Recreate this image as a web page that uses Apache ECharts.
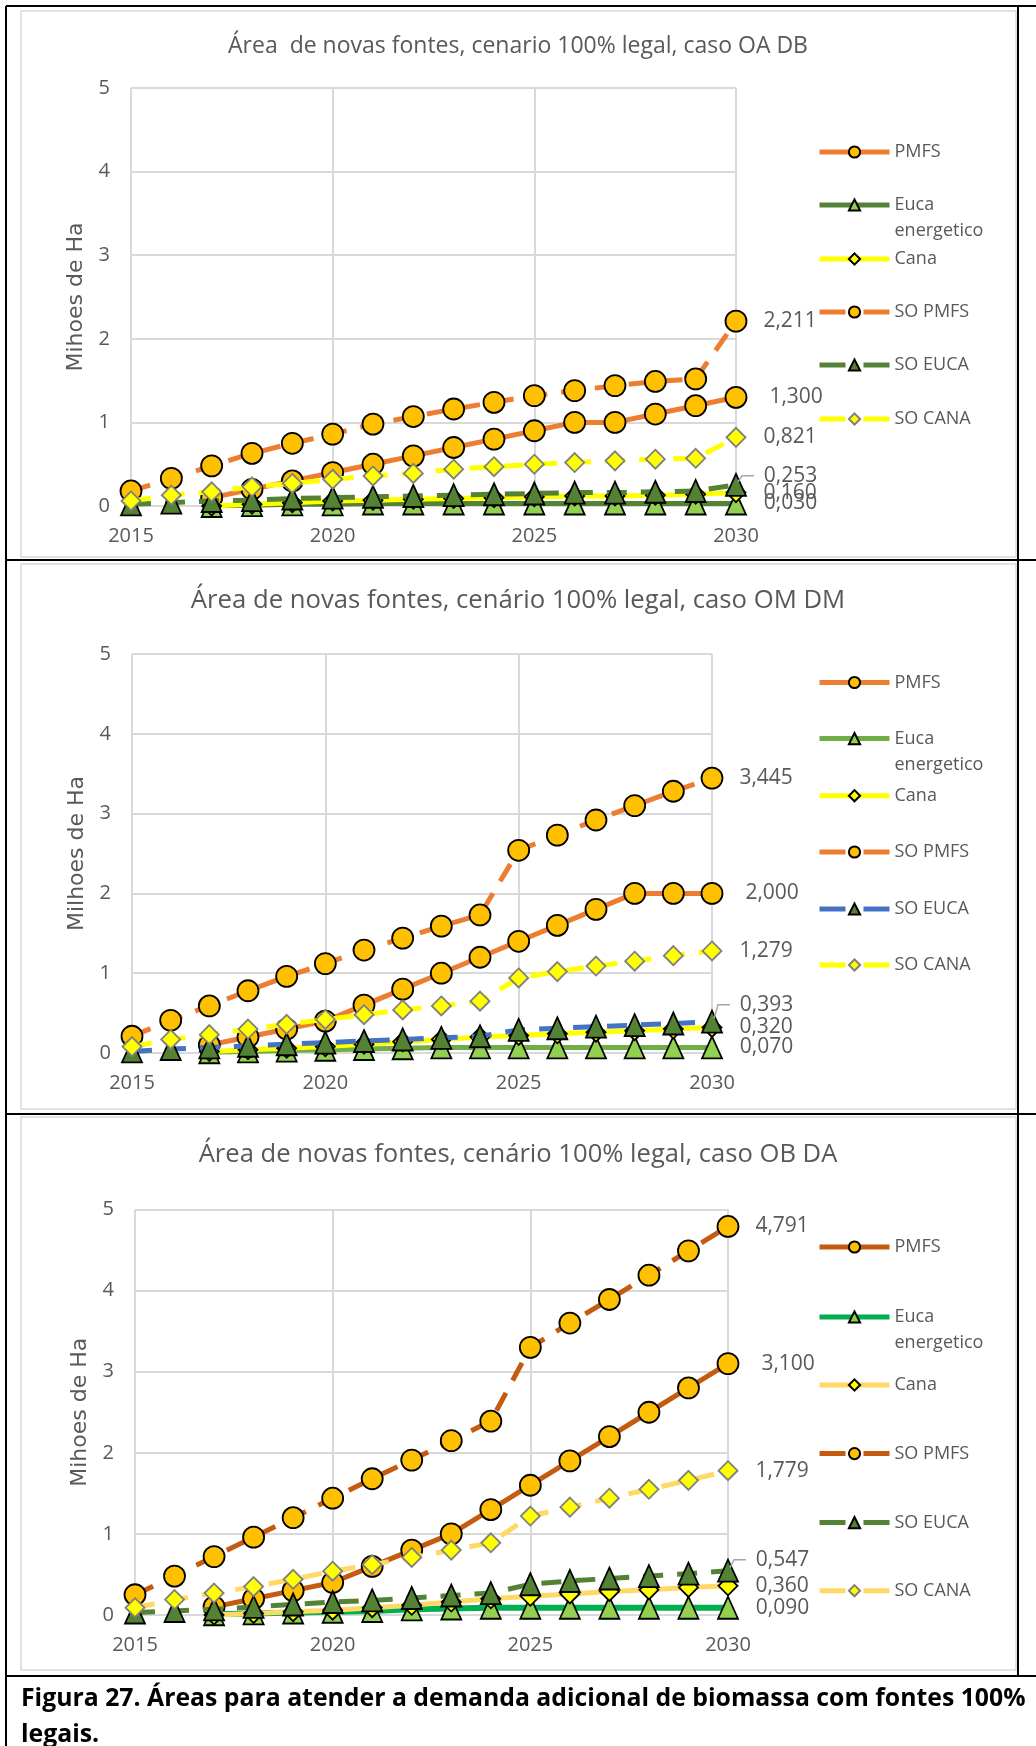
<!DOCTYPE html>
<html>
<head>
<meta charset="utf-8">
<script src="https://cdn.jsdelivr.net/npm/echarts@6/dist/echarts.min.js"></script>
<style>
  html, body { margin: 0; padding: 0; background: #ffffff; }
  #fig { width: 1036px; height: 1746px; }
</style>
</head>
<body>
<div id="fig"></div>
<script>
// ---- data (milhões de ha) ----
const years = [2015, 2016, 2017, 2018, 2019, 2020, 2021, 2022, 2023, 2024, 2025, 2026, 2027, 2028, 2029, 2030];
const xTicks = [2015, 2020, 2025, 2030];
const yTicks = [0, 1, 2, 3, 4, 5];

// caso OA DB
const pmfsOA   = [null, null, 0.10, 0.20, 0.30, 0.40, 0.50, 0.60, 0.70, 0.80, 0.90, 1.00, 1.00, 1.10, 1.20, 1.300];
const eucaOA   = [null, null, 0.00, 0.01, 0.02, 0.02, 0.03, 0.03, 0.03, 0.03, 0.03, 0.03, 0.03, 0.03, 0.03, 0.030];
const canaOA   = [null, null, 0.00, 0.02, 0.04, 0.06, 0.07, 0.08, 0.09, 0.10, 0.11, 0.12, 0.12, 0.13, 0.14, 0.160];
const soPmfsOA = [0.18, 0.33, 0.48, 0.63, 0.75, 0.86, 0.98, 1.07, 1.16, 1.24, 1.32, 1.38, 1.44, 1.49, 1.52, 2.211];
const soEucaOA = [0.02, 0.04, 0.06, 0.07, 0.09, 0.10, 0.11, 0.12, 0.13, 0.14, 0.15, 0.16, 0.16, 0.17, 0.18, 0.253];
const soCanaOA = [0.06, 0.13, 0.17, 0.23, 0.27, 0.32, 0.36, 0.39, 0.44, 0.47, 0.50, 0.52, 0.54, 0.56, 0.57, 0.821];

// caso OM DM
const pmfsOM   = [null, null, 0.10, 0.20, 0.30, 0.40, 0.60, 0.80, 1.00, 1.20, 1.40, 1.60, 1.80, 2.00, 2.00, 2.000];
const eucaOM   = [null, null, 0.01, 0.02, 0.03, 0.04, 0.05, 0.06, 0.07, 0.07, 0.07, 0.07, 0.07, 0.07, 0.07, 0.070];
const canaOM   = [null, null, 0.02, 0.04, 0.06, 0.08, 0.11, 0.14, 0.17, 0.20, 0.22, 0.24, 0.26, 0.28, 0.30, 0.320];
const soPmfsOM = [0.21, 0.41, 0.59, 0.78, 0.96, 1.12, 1.29, 1.44, 1.59, 1.73, 2.54, 2.73, 2.92, 3.10, 3.28, 3.445];
const soEucaOM = [0.02, 0.05, 0.07, 0.09, 0.11, 0.13, 0.15, 0.17, 0.19, 0.21, 0.29, 0.31, 0.33, 0.35, 0.37, 0.393];
const soCanaOM = [0.08, 0.17, 0.23, 0.30, 0.36, 0.42, 0.48, 0.54, 0.59, 0.65, 0.94, 1.02, 1.09, 1.15, 1.22, 1.279];

// caso OB DA
const pmfsOB   = [null, null, 0.10, 0.20, 0.30, 0.40, 0.60, 0.80, 1.00, 1.30, 1.60, 1.90, 2.20, 2.50, 2.80, 3.100];
const eucaOB   = [null, null, 0.01, 0.02, 0.03, 0.04, 0.05, 0.07, 0.08, 0.09, 0.09, 0.09, 0.09, 0.09, 0.09, 0.090];
const canaOB   = [null, null, 0.00, 0.02, 0.04, 0.06, 0.09, 0.12, 0.16, 0.20, 0.23, 0.26, 0.29, 0.31, 0.34, 0.360];
const soPmfsOB = [0.25, 0.48, 0.72, 0.96, 1.20, 1.44, 1.68, 1.91, 2.15, 2.39, 3.30, 3.60, 3.89, 4.19, 4.49, 4.791];
const soEucaOB = [0.03, 0.05, 0.07, 0.10, 0.13, 0.16, 0.18, 0.21, 0.24, 0.27, 0.38, 0.42, 0.45, 0.48, 0.51, 0.547];
const soCanaOB = [0.09, 0.19, 0.27, 0.35, 0.44, 0.54, 0.62, 0.71, 0.80, 0.89, 1.22, 1.33, 1.44, 1.55, 1.66, 1.779];

const seriesNames = ['PMFS', 'Euca energetico', 'Cana', 'SO PMFS', 'SO EUCA', 'SO CANA'];
const titles = [
  'Área  de novas fontes, cenario 100% legal, caso OA DB',
  'Área de novas fontes, cenário 100% legal, caso OM DM',
  'Área de novas fontes, cenário 100% legal, caso OB DA'
];
const yNames = ['Mihoes de Ha', 'Milhoes de Ha', 'Mihoes de Ha'];
const caption1 = 'Figura 27. Áreas para atender a demanda adicional de biomassa com fontes 100%';
const caption2 = 'legais.';

// ---- styling ----
const GREY_TEXT = '#595959';
const GRID_LINE = '#D9D9D9';
const FONT = '"Open Sans", "Noto Sans", sans-serif';

const panels = [
  {
    tag: 'OA DB',
    values: [pmfsOA, eucaOA, canaOA, soPmfsOA, soEucaOA, soCanaOA],
    lineColors: ['#ED7D31', '#548235', '#FFFF00', '#ED7D31', '#548235', '#FFFF00'],
    grid: { left: 131, top: 88, width: 605, height: 418 },
    titleTop: 34.5, titleSize: 23,
    legendCenters: [152, 205, 259, 312, 365, 419],
    leaderDy: -9
  },
  {
    tag: 'OM DM',
    values: [pmfsOM, eucaOM, canaOM, soPmfsOM, soEucaOM, soCanaOM],
    lineColors: ['#ED7D31', '#70AD47', '#FFFF00', '#ED7D31', '#4472C4', '#FFFF00'],
    grid: { left: 132, top: 654, width: 580, height: 399 },
    titleTop: 588, titleSize: 25.7,
    legendCenters: [682.5, 738.6, 795.7, 852, 909, 965],
    leaderDy: -17
  },
  {
    tag: 'OB DA',
    values: [pmfsOB, eucaOB, canaOB, soPmfsOB, soEucaOB, soCanaOB],
    lineColors: ['#C55A11', '#00B050', '#FFD966', '#C55A11', '#548235', '#FFD966'],
    grid: { left: 135, top: 1209.5, width: 593, height: 405.5 },
    titleTop: 1142, titleSize: 25.6,
    legendCenters: [1247, 1317, 1385, 1453.6, 1522.6, 1590.7],
    leaderDy: -11
  }
];

// marker look for each of the six series (same order as seriesNames)
const markers = [
  { symbol: 'circle',   size: 21,       fill: '#FFC000', border: '#000000', dashed: false, dist: 22 },
  { symbol: 'triangle', size: [20, 22], fill: '#92D050', border: '#000000', dashed: false, dist: 17 },
  { symbol: 'diamond',  size: 19,       fill: '#FFFF00', border: '#000000', dashed: false, dist: 17 },
  { symbol: 'circle',   size: 21,       fill: '#FFC000', border: '#000000', dashed: true,  dist: 16 },
  { symbol: 'triangle', size: [20, 22], fill: '#548235', border: '#000000', dashed: true,  dist: 17 },
  { symbol: 'diamond',  size: 19,       fill: '#FFFF00', border: '#7F7F7F', dashed: true,  dist: 17 }
];

const fmt = v => v.toFixed(3).replace('.', ',');
const fullName = (name, tag) => name + ' · ' + tag;

const grids = [], xAxes = [], yAxes = [], series = [], legends = [], titleList = [];

panels.forEach((p, gi) => {
  grids.push(Object.assign({ outerBoundsMode: 'none', containLabel: false }, p.grid));
  xAxes.push({
    type: 'value', gridIndex: gi,
    min: xTicks[0], max: xTicks[xTicks.length - 1], interval: xTicks[1] - xTicks[0],
    axisLine: { show: false }, axisTick: { show: false },
    splitLine: { show: true, lineStyle: { color: GRID_LINE, width: 2 } },
    axisLabel: { color: GREY_TEXT, fontSize: 20, fontFamily: FONT, margin: 20, formatter: v => String(v) }
  });
  yAxes.push({
    type: 'value', gridIndex: gi,
    min: yTicks[0], max: yTicks[yTicks.length - 1], interval: yTicks[1] - yTicks[0],
    axisLine: { show: false }, axisTick: { show: false },
    splitLine: { show: true, lineStyle: { color: GRID_LINE, width: 2 } },
    axisLabel: { color: GREY_TEXT, fontSize: 20, fontFamily: FONT, margin: 21 },
    name: yNames[gi], nameLocation: 'middle', nameRotate: 90, nameGap: 44,
    nameTextStyle: { color: GREY_TEXT, fontSize: 22, fontFamily: '"DejaVu Sans", sans-serif' }
  });
  titleList.push({
    text: titles[gi], left: 'center', top: p.titleTop, padding: 0,
    textStyle: { color: GREY_TEXT, fontSize: p.titleSize, fontWeight: 'normal', fontFamily: FONT }
  });

  seriesNames.forEach((name, si) => {
    const m = markers[si];
    const vals = p.values[si];
    const data = [];
    years.forEach((yr, k) => {
      if (vals[k] === null) return;
      if (k === years.length - 1) {
        data.push({ value: [yr, vals[k]], label: { show: true } });
      } else {
        data.push([yr, vals[k]]);
      }
    });
    const sname = fullName(name, p.tag);
    series.push({
      type: 'line', name: sname, xAxisIndex: gi, yAxisIndex: gi,
      z: 2 + si,
      data: data,
      symbol: m.symbol, symbolSize: m.size,
      showAllSymbol: true,
      lineStyle: {
        color: p.lineColors[si], width: si === 1 && gi === 2 ? 6 : 5,
        type: m.dashed ? [20, 14] : 'solid', join: 'round'
      },
      itemStyle: { color: m.fill, borderColor: m.border, borderWidth: 1.8 },
      label: {
        show: false, position: 'right', distance: m.dist,
        offset: si === 4 ? [0, p.leaderDy] : [0, 0],
        color: GREY_TEXT, fontSize: 21, fontFamily: FONT,
        formatter: prm => fmt(prm.value[1])
      },
      emphasis: { disabled: true },
      animation: false
    });
    // the two-line "Euca / energetico" entry keeps its marker level with the first line
    legends.push({
      left: 817,
      top: p.legendCenters[si] - (si === 1 ? 39 : 13),
      orient: 'vertical', padding: 0,
      itemWidth: 70, itemHeight: 14,
      selectedMode: false,
      data: [sname],
      formatter: n => {
        const base = n.split(' · ')[0];
        return base === 'Euca energetico' ? ' \nEuca\nenergetico' : base;
      },
      lineStyle: { width: 5, type: m.dashed ? [26, 18] : 'solid' },
      textStyle: { color: GREY_TEXT, fontSize: 18, fontFamily: FONT, lineHeight: 26 }
    });
  });
});

// table rules and chart-area frames
const BLACK = '#000000';
const frameGraphics = [
  { type: 'rect', shape: { x: 21, y: 11, width: 995, height: 546 }, style: { fill: null, stroke: GRID_LINE, lineWidth: 1.5 }, silent: true, z: 0 },
  { type: 'rect', shape: { x: 21, y: 564, width: 995, height: 545 }, style: { fill: null, stroke: GRID_LINE, lineWidth: 1.5 }, silent: true, z: 0 },
  { type: 'rect', shape: { x: 21, y: 1117, width: 995, height: 553 }, style: { fill: null, stroke: GRID_LINE, lineWidth: 1.5 }, silent: true, z: 0 },
  { type: 'line', shape: { x1: 6, y1: 6, x2: 1036, y2: 6 }, style: { stroke: BLACK, lineWidth: 2 }, silent: true },
  { type: 'line', shape: { x1: 6, y1: 560, x2: 1036, y2: 560 }, style: { stroke: BLACK, lineWidth: 2 }, silent: true },
  { type: 'line', shape: { x1: 6, y1: 1114, x2: 1036, y2: 1114 }, style: { stroke: BLACK, lineWidth: 2 }, silent: true },
  { type: 'line', shape: { x1: 6, y1: 1676, x2: 1036, y2: 1676 }, style: { stroke: BLACK, lineWidth: 2 }, silent: true },
  { type: 'line', shape: { x1: 6, y1: 6, x2: 6, y2: 1746 }, style: { stroke: BLACK, lineWidth: 2 }, silent: true },
  { type: 'line', shape: { x1: 1018, y1: 6, x2: 1018, y2: 1676 }, style: { stroke: BLACK, lineWidth: 2 }, silent: true },
  { type: 'text', style: { text: caption1, x: 21, y: 1699, verticalAlign: 'middle', fill: BLACK, fontSize: 24.8, fontWeight: 'bold', fontFamily: FONT }, silent: true },
  { type: 'text', style: { text: caption2, x: 21, y: 1735, verticalAlign: 'middle', fill: BLACK, fontSize: 24.8, fontWeight: 'bold', fontFamily: FONT }, silent: true }
];

const chart = echarts.init(document.getElementById('fig'), null, { renderer: 'canvas' });
chart.setOption({
  backgroundColor: '#ffffff',
  animation: false,
  textStyle: { fontFamily: FONT },
  title: titleList,
  grid: grids,
  xAxis: xAxes,
  yAxis: yAxes,
  legend: legends,
  series: series,
  graphic: frameGraphics
});

// leader lines for the shifted "SO EUCA" end labels
const leaders = panels.map((p, gi) => {
  const vals = p.values[4];
  const pt = chart.convertToPixel({ gridIndex: gi }, [years[years.length - 1], vals[vals.length - 1]]);
  return {
    type: 'polyline', silent: true, z: 10,
    shape: { points: [[pt[0] + 2, pt[1] - 3], [pt[0] + 6, pt[1] + p.leaderDy], [pt[0] + 18, pt[1] + p.leaderDy]] },
    style: { stroke: '#A6A6A6', lineWidth: 1.5, fill: null }
  };
});
chart.setOption({ graphic: frameGraphics.concat(leaders) });
</script>
</body>
</html>
